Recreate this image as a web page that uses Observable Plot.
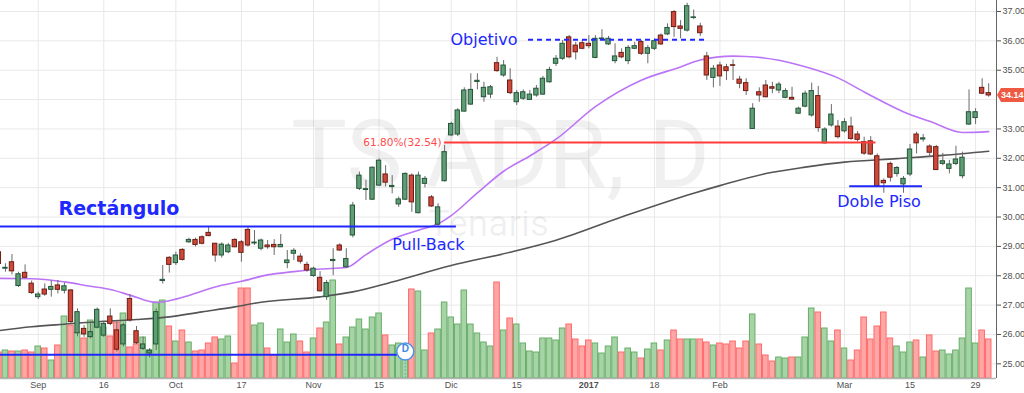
<!DOCTYPE html>
<html>
<head>
<meta charset="utf-8">
<script src="https://cdn.jsdelivr.net/npm/d3@7"></script>
<script src="https://cdn.jsdelivr.net/npm/@observablehq/plot@0.6"></script>
<style>
html,body{margin:0;padding:0;background:#fff;}
#chart{position:relative;width:1024px;height:393px;overflow:hidden;background:#fff;}
#chart svg{position:absolute;left:0;top:0;background:transparent;}
</style>
</head>
<body>
<div id="chart"></div>
<script>
// ---- data (trading-day index: 0 = 1 Sep 2016) ----
const firstDay = -6;
const opens = [28.80,28.24,28.46,27.65,28.10,27.73,27.27,27.53,27.52,27.67,27.49,27.50,26.04,26.19,25.91,26.23,25.96,26.61,26.14,25.66,27.21,26.11,25.51,25.35,25.66,27.82,28.61,28.43,28.88,29.14,29.22,29.31,29.46,29.09,28.69,28.80,29.22,29.14,29.56,29.10,28.92,29.03,29.05,28.97,28.43,28.75,28.65,28.37,27.99,27.93,27.27,28.50,29.03,28.29,29.37,30.96,30.92,30.59,31.07,31.45,31.02,30.43,30.59,31.41,30.13,31.13,30.67,29.74,31.22,32.78,32.81,33.59,33.83,34.60,34.08,34.17,35.24,34.82,34.65,33.91,34.03,33.99,34.14,34.17,34.59,35.22,35.39,36.12,35.84,35.92,35.90,35.42,36.06,35.88,35.31,35.59,35.31,35.73,35.96,35.56,35.73,36.18,36.22,36.98,36.49,36.35,36.78,36.49,35.47,34.74,35.16,35.10,35.17,34.68,34.56,33.00,34.25,34.48,34.42,34.31,34.06,34.06,33.52,33.76,33.46,34.12,32.51,33.12,33.08,32.92,33.08,32.81,32.55,32.58,32.07,31.23,31.81,31.47,31.11,31.45,32.81,32.64,32.40,32.38,31.81,31.64,31.81,31.39,33.15,33.37,34.40,34.22];
const highs = [28.95,28.41,28.72,28.12,28.37,27.82,27.44,27.72,27.82,27.84,27.75,27.52,26.87,26.30,26.42,26.90,26.42,26.87,26.42,26.38,27.36,26.27,25.91,25.52,26.87,28.35,28.65,28.80,28.92,29.28,29.28,29.36,29.65,29.10,29.12,29.10,29.26,29.20,29.66,29.54,29.25,29.20,29.23,29.40,28.86,28.92,28.75,28.46,28.29,28.14,27.84,28.92,29.09,28.92,30.50,31.53,31.25,31.70,31.98,31.75,31.41,30.68,31.50,31.47,31.53,31.38,30.73,30.45,32.44,33.23,33.69,34.40,34.88,34.88,34.59,34.48,35.44,35.33,35.05,34.31,34.33,34.31,34.48,34.79,35.10,35.50,36.01,36.18,35.95,36.01,36.18,36.18,36.38,36.15,35.90,35.73,35.84,35.95,36.01,35.84,36.07,36.24,36.58,37.03,36.69,37.28,37.05,36.60,35.61,35.16,35.27,35.20,35.35,34.79,34.71,33.86,34.40,34.65,34.59,34.59,34.37,34.42,33.74,34.29,34.56,34.45,33.04,33.83,33.29,33.35,33.40,32.91,32.72,32.74,32.15,31.30,31.87,31.72,31.38,32.47,32.89,32.81,32.46,32.44,32.17,31.93,32.41,32.21,34.33,33.69,34.71,34.54];
const lows = [28.30,28.12,28.03,27.60,27.90,27.36,27.19,27.30,27.27,27.38,27.38,26.38,25.92,25.90,25.85,26.19,25.90,26.30,25.40,25.57,26.42,25.66,25.45,25.20,25.45,27.72,28.09,28.35,28.50,29.10,28.98,29.05,29.33,28.46,28.60,28.75,28.95,28.46,28.98,29.03,28.85,28.90,28.69,28.96,28.24,28.52,28.40,28.12,27.95,27.44,27.16,28.00,28.83,28.25,29.29,30.90,30.56,30.56,31.05,31.02,30.79,30.33,30.56,30.16,30.11,30.99,30.33,29.68,31.19,32.74,32.74,33.57,33.80,34.33,33.91,34.03,34.93,34.76,34.17,33.80,33.97,33.97,34.08,34.14,34.56,35.13,35.33,35.39,35.35,35.70,35.73,35.39,36.01,35.84,35.22,35.39,35.19,35.70,35.50,35.22,35.67,35.84,36.18,36.12,36.07,36.30,36.72,36.15,34.65,34.40,34.45,34.65,34.65,34.37,34.14,32.98,33.91,34.06,34.20,34.20,34.03,33.97,33.49,33.72,33.40,32.89,32.49,33.06,32.66,32.86,32.61,32.55,32.10,32.10,31.02,30.81,31.19,31.36,30.81,31.38,32.15,32.55,32.04,31.58,31.75,31.47,31.75,31.30,33.12,33.15,34.17,34.08];
const closes = [28.40,28.27,28.15,28.05,27.93,27.41,27.36,27.36,27.62,27.52,27.64,26.42,26.76,26.00,26.08,26.84,26.36,26.36,25.48,26.31,26.48,25.70,25.66,25.45,26.76,27.86,28.37,28.69,28.54,29.22,29.05,29.09,29.35,28.69,29.06,29.03,28.97,28.78,29.03,29.13,29.20,28.97,28.97,29.05,28.52,28.85,28.48,28.18,28.24,27.47,27.75,28.54,28.86,28.57,30.39,31.41,30.95,31.68,31.92,31.17,31.06,30.60,31.47,30.50,31.41,31.30,30.36,30.33,32.21,33.17,33.63,34.31,34.33,34.64,34.40,34.42,34.97,35.16,34.22,34.22,34.25,34.17,34.37,34.71,35.01,35.39,35.90,35.44,35.61,35.73,35.82,36.07,36.08,36.07,35.47,35.44,35.76,35.82,35.56,35.75,35.99,35.88,36.44,36.47,36.41,37.18,36.80,36.26,34.82,35.05,34.79,34.97,35.15,34.54,34.29,33.69,34.14,34.08,34.37,34.51,34.29,34.00,33.69,34.20,34.29,33.03,32.98,33.49,32.72,33.23,32.66,32.63,32.16,32.13,31.05,31.15,31.34,31.67,31.30,32.30,32.51,32.68,32.19,31.60,31.90,31.79,31.96,32.02,33.57,33.57,34.20,34.14];
const volumes = [1.30,1.40,1.35,1.35,1.40,1.30,1.60,1.50,0.90,1.65,3.10,2.65,2.30,2.00,2.90,2.75,2.55,2.10,2.80,3.25,1.55,1.70,2.05,1.40,3.80,3.90,2.60,1.85,2.40,1.80,1.35,1.40,1.75,2.05,1.95,2.10,0.75,4.50,4.50,2.65,2.75,1.50,1.15,2.45,1.80,2.20,1.85,1.30,2.00,2.50,2.80,4.90,1.70,2.05,2.55,2.95,2.45,3.05,3.25,2.15,1.65,1.75,1.70,4.45,4.35,1.40,2.25,2.45,3.80,3.05,2.70,4.40,2.70,2.25,1.80,1.60,4.80,2.40,3.00,2.70,1.75,1.35,1.30,2.00,2.00,1.90,2.50,2.70,1.95,1.60,1.90,1.75,1.25,1.60,2.05,1.30,1.50,1.30,1.00,1.45,1.75,1.40,1.90,2.40,1.95,1.95,1.95,1.95,1.80,1.65,1.75,1.70,1.85,1.50,1.85,3.20,1.70,1.15,0.85,1.05,1.00,1.05,1.05,2.05,3.50,3.30,2.50,1.85,2.40,1.50,0.90,1.40,3.05,1.95,2.60,3.30,2.00,1.60,1.30,1.80,1.90,1.05,2.15,1.35,1.40,1.20,1.40,2.00,4.50,1.75,2.40,1.95];

// moving averages
const maFastDay   = [-6,-1,4,8,11,14,18,20,23,27,31,35,39,43,47,50,54,58,61,63,67,71,75,79,85,92,98,101,106,108,113,117,122,126,133,136,141,145];
const maFastValue = [27.91,27.90,27.79,27.64,27.53,27.34,27.09,27.15,27.33,27.62,27.81,28.03,28.14,28.23,28.28,28.72,29.24,29.55,29.77,30.05,30.82,31.56,32.08,32.65,33.76,34.66,35.11,35.35,35.48,35.47,35.34,35.12,34.74,34.26,33.49,33.26,32.88,32.91];
const maSlowDay   = [-6,-1,4,10,15,20,25,30,34,43,48,54,63,72,79,89,100,104,111,117,123,131,138,145];
const maSlowValue = [26.13,26.26,26.35,26.45,26.51,26.60,26.77,26.94,27.10,27.28,27.45,27.79,28.35,28.80,29.21,30.00,30.81,31.07,31.48,31.70,31.87,31.99,32.10,32.24];

// axis ticks
const tickDay   = [0,10,21,31,42,52,63,73,84,94,104,123,133,143];
const tickLabel = ["Sep","16","Oct","17","Nov","15","Dic","15","2017","18","Feb","Mar","15","29"];
const priceTicks = [25,26,27,28,29,30,31,32,33,34,35,36,37];

// drawn annotations (price level, from day, to day)
const rectTop    = {price: 29.68, from: -6, to: 63.8};
const rectBottom = {price: 25.31, from: -6, to: 54.8};
const fibLevel   = {price: 32.54, from: 62, to: 127.8, label: "61.80%(32.54)"};
const target     = {price: 36.04, from: 74.8, to: 101.8};
const doubleBottom = {price: 31.05, from: 123.8, to: 134.9};
const noteText  = ["Rectángulo","Pull-Back","Objetivo","Doble Piso"];
const noteDay   = [3.1, 54.0, 62.9, 121.9];
const notePrice = [30.26, 29.06, 36.03, 30.53];
const dividendDay = [56];
const symbolText = "TS ADR, D";
const companyText = "Tenaris";

// ---- build ----
const candles = opens.map((o,k)=>({day:firstDay+k, open:o, high:highs[k], low:lows[k], close:closes[k], volume:volumes[k]}));
const up = candles.filter(d=>d.close>=d.open);
const down = candles.filter(d=>d.close<d.open);
const maFast = maFastDay.map((d,k)=>({day:d, value:maFastValue[k]}));
const maSlow = maSlowDay.map((d,k)=>({day:d, value:maSlowValue[k]}));
const ticks = tickDay.map((d,k)=>({day:d, label:tickLabel[k]}));
const notes = noteText.map((t,k)=>({text:t, day:noteDay[k], price:notePrice[k]}));
const last = candles[candles.length-1];
// the axis label hidden under the last-price badge in the reference
const shownPriceTicks = priceTicks.filter(t=>Math.abs(t-last.close)>0.35);

const W = 1024, H = 393;
const xDomain = [-5.751, 146.19];
const yDomain = [24.5, 37.375];
const base = {width:W, height:H, marginLeft:0, marginRight:28, marginTop:0, marginBottom:15,
  x:{domain:xDomain, axis:null}, style:{background:"transparent", fontFamily:"Liberation Sans, Arial, sans-serif"}};
const FONT = "DejaVu Sans, Verdana, sans-serif";

// layer 1: grid + watermark
const grid = Plot.plot({...base, y:{domain:yDomain, axis:null}, marks:[
  Plot.ruleY(priceTicks, {stroke:"#e8e8e8", strokeWidth:1}),
  Plot.ruleX(tickDay, {stroke:"#e8e8e8", strokeWidth:1}),
  Plot.text([symbolText], {frameAnchor:"middle", dx:2, dy:-33, fontSize:94, fill:"#000", fillOpacity:0.06, fontFamily:"Roboto, sans-serif"}),
  Plot.text([companyText], {frameAnchor:"middle", dx:-10, dy:35, fontSize:37, fill:"#000", fillOpacity:0.06, fontFamily:"Roboto, sans-serif"})
]});

// layer 2: volume
const vol = Plot.plot({...base, y:{domain:[0,18.9], axis:null}, marks:[
  Plot.rectY(up, {x1:d=>d.day-0.5, x2:d=>d.day+0.5, y:"volume", fill:"#a6d4a6", stroke:"#68ad68", strokeWidth:1, insetLeft:0.5, insetRight:0.5}),
  Plot.rectY(down, {x1:d=>d.day-0.5, x2:d=>d.day+0.5, y:"volume", fill:"#ffa6a6", stroke:"#ff6a6a", strokeWidth:1, insetLeft:0.5, insetRight:0.5})
]});

// layer 3: price
const price = Plot.plot({...base, y:{domain:yDomain, axis:null}, marks:[
  Plot.line(maSlow, {x:"day", y:"value", stroke:"#555555", strokeWidth:1.6, curve:"monotone-x"}),
  Plot.line(maFast, {x:"day", y:"value", stroke:"#bb74f6", strokeWidth:1.6, curve:"monotone-x"}),
  Plot.ruleX(candles, {x:"day", y1:"low", y2:"high", stroke:"#6a6a6a", strokeWidth:1}),
  Plot.rect(up, {x1:d=>d.day-0.33, x2:d=>d.day+0.33, y1:"open", y2:"close", fill:"#5f9e74", stroke:"#24553a", strokeWidth:1}),
  Plot.rect(down, {x1:d=>d.day-0.33, x2:d=>d.day+0.33, y1:"open", y2:"close", fill:"#d0483a", stroke:"#6b1e15", strokeWidth:1}),
  // drawings
  Plot.ruleY([rectTop], {y:"price", x1:"from", x2:"to", stroke:"#2028ff", strokeWidth:2}),
  Plot.ruleY([rectBottom], {y:"price", x1:"from", x2:"to", stroke:"#2028ff", strokeWidth:2}),
  Plot.ruleY([fibLevel], {y:"price", x1:"from", x2:"to", stroke:"#ff3b3b", strokeWidth:2}),
  Plot.text([fibLevel], {x:"from", y:"price", text:"label", textAnchor:"end", dx:-3, fontSize:10.5, fill:"#ff4a4a", fontFamily:FONT}),
  Plot.ruleY([target], {y:"price", x1:"from", x2:"to", stroke:"#2028ff", strokeWidth:2, strokeDasharray:"5,4"}),
  Plot.ruleY([doubleBottom], {y:"price", x1:"from", x2:"to", stroke:"#2028ff", strokeWidth:2}),
  Plot.text(notes.filter(d=>d.text!=="Rectángulo"), {x:"day", y:"price", text:"text", textAnchor:"start", fontSize:16, fill:"#2028ff", fontFamily:FONT}),
  Plot.text(notes.filter(d=>d.text==="Rectángulo"), {x:"day", y:"price", text:"text", textAnchor:"start", fontSize:19, fontWeight:"bold", fill:"#2028ff", fontFamily:FONT}),
  // dividend marker
  Plot.ruleX(dividendDay, {x:d=>d, insetTop:359, stroke:"#5aa0c8", strokeWidth:1, strokeDasharray:"1.5,2"}),
  Plot.dot(dividendDay, {x:d=>d, frameAnchor:"bottom", dy:-27, r:8.5, fill:"#fff", stroke:"#4f92e6", strokeWidth:1.5}),
  Plot.text(dividendDay, {x:d=>d, frameAnchor:"bottom", dy:-27, text:()=>"D", fontSize:10, fontWeight:"bold", fill:"#3f86e0"}),
  // axes
  Plot.ruleY([yDomain[0]], {stroke:"#b5b5b5", strokeWidth:1.5}),
  Plot.ruleX([xDomain[1]], {stroke:"#666", strokeWidth:1}),
  Plot.axisY(shownPriceTicks, {anchor:"right", tickSize:4, tickPadding:2, tickFormat:d=>d.toFixed(2), fontSize:9, color:"#505050"}),
  Plot.text(ticks.filter(d=>d.label!=="2017"), {x:"day", frameAnchor:"bottom", dy:9, text:"label", fontSize:9, fill:"#505050"}),
  Plot.text(ticks.filter(d=>d.label==="2017"), {x:"day", frameAnchor:"bottom", dy:9, text:"label", fontSize:9, fontWeight:"bold", fill:"#505050"})
]});

const root = document.getElementById("chart");
[grid, vol, price].forEach(p=>root.appendChild(p));

// last price badge on the right axis, placed with the plot's own scales
const yScale = price.scale("y");
const xScale = price.scale("x");
const yLast = yScale.apply(last.close);
const xAxis = xScale.apply(xDomain[1]);
const svg = d3.select(price);
const g = svg.append("g").attr("text-anchor","start");
g.append("path")
  .attr("d", `M${xAxis+1},${yLast} L${xAxis+5},${yLast-7} L${W},${yLast-7} L${W},${yLast+7} L${xAxis+5},${yLast+7} Z`)
  .attr("fill", "#ef5a42");
g.append("text").attr("x", xAxis+5).attr("y", yLast).attr("dy","0.35em")
  .attr("text-anchor","start")
  .attr("font-size", 9).attr("font-weight","bold").attr("fill","#fff")
  .attr("font-family","Liberation Sans, Arial, sans-serif").text(last.close.toFixed(2));
</script>
</body>
</html>
